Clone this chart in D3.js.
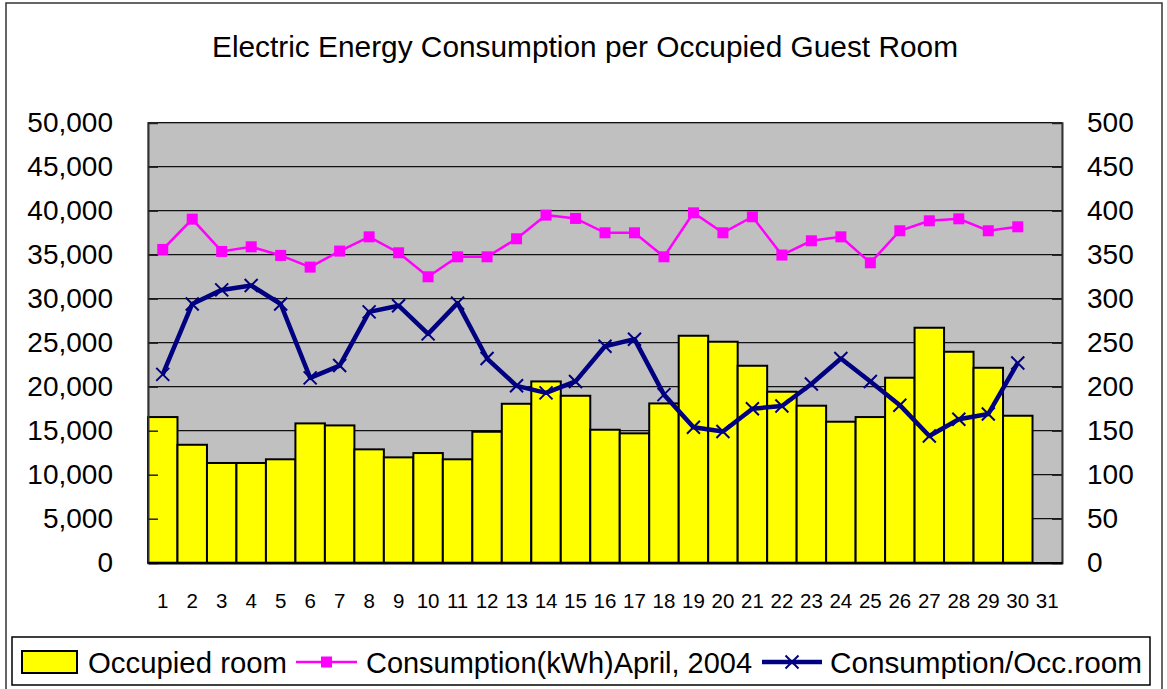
<!DOCTYPE html>
<html>
<head>
<meta charset="utf-8">
<script src="https://cdn.jsdelivr.net/npm/d3@7"></script>
<style>
  body { margin: 0; background: #fff; }
  text { font-family: "Liberation Sans", Arial, sans-serif; fill: #000; }
</style>
</head>
<body>
<script>
const W = 1167, H = 689;

// days of April 2004 (31 slots on the axis, data for 30)
const days = d3.range(1, 32).map(String);

// occupied rooms per day (left axis)
const occupied = [16550, 13400, 11330, 11330, 11750, 15830, 15600, 12880, 11970, 12460,
                  11750, 14880, 18060, 20600, 18970, 15110, 14700, 18100, 25790, 25110,
                  22380, 19430, 17840, 16020, 16550, 21020, 26700, 23970, 22150, 16700];

// consumption kWh (left axis)
const consumption = [35600, 39040, 35370, 35900, 34920, 33590, 35410, 37030, 35220, 32490,
                     34760, 34760, 36810, 39500, 39120, 37490, 37490, 34760, 39760, 37490,
                     39310, 34960, 36580, 37030, 34080, 37720, 38850, 39080, 37720, 38170];

// consumption per occupied room (right axis)
const perRoom = [214, 294, 310, 315, 294, 210, 224, 285, 292, 260,
                 295, 232, 201, 193, 206, 246, 254, 191, 154, 149,
                 175, 178, 203, 232, 206, 179, 144, 163, 169, 227];

const leftTicks = d3.range(0, 50001, 5000);
const rightTicks = d3.range(0, 501, 50);

const plot = { left: 148, right: 1062, top: 122.7, bottom: 562.7 };

const svg = d3.select("body").append("svg")
    .attr("width", W)
    .attr("height", H);

// outer chart frame
svg.append("rect")
    .attr("x", 6).attr("y", 3)
    .attr("width", 1156).attr("height", 700)
    .attr("fill", "#fff")
    .attr("stroke", "#333")
    .attr("stroke-width", 1.5);

// title
svg.append("text")
    .attr("x", 585).attr("y", 57)
    .attr("text-anchor", "middle")
    .attr("font-size", 29)
    .attr("textLength", 746)
    .attr("lengthAdjust", "spacingAndGlyphs")
    .text("Electric Energy Consumption per Occupied Guest Room");

const x = d3.scaleBand()
    .domain(days)
    .range([plot.left, plot.right])
    .paddingInner(0).paddingOuter(0);

const yL = d3.scaleLinear().domain([0, 50000]).range([plot.bottom, plot.top]);
const yR = d3.scaleLinear().domain([0, 500]).range([plot.bottom, plot.top]);

// plot background
svg.append("rect")
    .attr("x", plot.left).attr("y", plot.top)
    .attr("width", plot.right - plot.left)
    .attr("height", plot.bottom - plot.top)
    .attr("fill", "#c0c0c0")
    .attr("stroke", "#999")
    .attr("stroke-width", 1.5);

// gridlines
svg.append("g")
    .selectAll("line")
    .data(leftTicks.slice(1))
    .join("line")
    .attr("x1", plot.left).attr("x2", plot.right)
    .attr("y1", d => yL(d)).attr("y2", d => yL(d))
    .attr("stroke", "#111")
    .attr("stroke-width", 1.3);

// bars
svg.append("g")
    .selectAll("rect")
    .data(occupied)
    .join("rect")
    .attr("x", (d, i) => x(days[i]))
    .attr("y", d => yL(d))
    .attr("width", x.bandwidth())
    .attr("height", d => yL(0) - yL(d))
    .attr("fill", "#ffff00")
    .attr("stroke", "#000")
    .attr("stroke-width", 2);

// axes
const fmt = d3.format(",");
const axL = svg.append("g")
    .attr("transform", `translate(${plot.left},0)`)
    .call(d3.axisLeft(yL).tickValues(leftTicks).tickSize(-10).tickPadding(35).tickFormat(fmt));
const axR = svg.append("g")
    .attr("transform", `translate(${plot.right},0)`)
    .call(d3.axisRight(yR).tickValues(rightTicks).tickSize(-10).tickPadding(25).tickFormat(d3.format("d")));

[axL, axR].forEach(ax => {
    ax.select(".domain").attr("stroke", "#333").attr("stroke-width", 2);
    ax.selectAll(".tick line").attr("stroke", "#222").attr("stroke-width", 1.5);
    ax.selectAll(".tick text")
        .attr("font-size", 28)
        .attr("fill", "#000")
        .attr("font-family", "Liberation Sans, Arial, sans-serif");
});

const axX = svg.append("g")
    .attr("transform", `translate(0,${plot.bottom})`)
    .call(d3.axisBottom(x).tickSize(0).tickPadding(31));
axX.select(".domain").attr("stroke", "#000").attr("stroke-width", 2.5);
axX.selectAll(".tick text")
    .attr("font-size", 20.5)
    .attr("fill", "#000")
    .attr("font-family", "Liberation Sans, Arial, sans-serif");

// consumption line (pink)
const cx = i => x(days[i]) + x.bandwidth() / 2;
const pinkLine = d3.line().x((d, i) => cx(i)).y(d => yL(d));
svg.append("path")
    .datum(consumption)
    .attr("d", pinkLine)
    .attr("fill", "none")
    .attr("stroke", "#ff00ff")
    .attr("stroke-width", 2.5);
svg.append("g")
    .selectAll("rect")
    .data(consumption)
    .join("rect")
    .attr("x", (d, i) => cx(i) - 5.5)
    .attr("y", d => yL(d) - 5.5)
    .attr("width", 11).attr("height", 11)
    .attr("fill", "#ff00ff");

// per room line (navy)
const navyLine = d3.line().x((d, i) => cx(i)).y(d => yR(d));
svg.append("path")
    .datum(perRoom)
    .attr("d", navyLine)
    .attr("fill", "none")
    .attr("stroke", "#000080")
    .attr("stroke-width", 4.5)
    .attr("stroke-linejoin", "round");

const cross = (px, py, s) => `M${px - s},${py - s}L${px + s},${py + s}M${px - s},${py + s}L${px + s},${py - s}`;
svg.append("g")
    .selectAll("path")
    .data(perRoom)
    .join("path")
    .attr("d", (d, i) => cross(cx(i), yR(d), 6.5))
    .attr("stroke", "#000080")
    .attr("stroke-width", 2);

// legend
const lg = svg.append("g");
lg.append("rect")
    .attr("x", 12).attr("y", 637)
    .attr("width", 1138).attr("height", 48)
    .attr("fill", "#fff")
    .attr("stroke", "#000")
    .attr("stroke-width", 1.5);

lg.append("rect")
    .attr("x", 22).attr("y", 651)
    .attr("width", 55).attr("height", 22)
    .attr("fill", "#ffff00")
    .attr("stroke", "#000")
    .attr("stroke-width", 2);
lg.append("text")
    .attr("x", 88).attr("y", 673)
    .attr("font-size", 29)
    .attr("textLength", 199)
    .attr("lengthAdjust", "spacingAndGlyphs")
    .text("Occupied room");

lg.append("line")
    .attr("x1", 296).attr("x2", 357).attr("y1", 662).attr("y2", 662)
    .attr("stroke", "#ff00ff").attr("stroke-width", 2.5);
lg.append("rect")
    .attr("x", 321).attr("y", 656.5).attr("width", 11).attr("height", 11)
    .attr("fill", "#ff00ff");
lg.append("text")
    .attr("x", 366).attr("y", 673)
    .attr("font-size", 29)
    .attr("textLength", 386)
    .attr("lengthAdjust", "spacingAndGlyphs")
    .text("Consumption(kWh)April, 2004");

lg.append("line")
    .attr("x1", 762).attr("x2", 822).attr("y1", 662).attr("y2", 662)
    .attr("stroke", "#000080").attr("stroke-width", 4.5);
lg.append("path")
    .attr("d", cross(792, 662, 6.5))
    .attr("stroke", "#000080").attr("stroke-width", 2);
lg.append("text")
    .attr("x", 830).attr("y", 673)
    .attr("font-size", 29)
    .attr("textLength", 312)
    .attr("lengthAdjust", "spacingAndGlyphs")
    .text("Consumption/Occ.room");
</script>
</body>
</html>
